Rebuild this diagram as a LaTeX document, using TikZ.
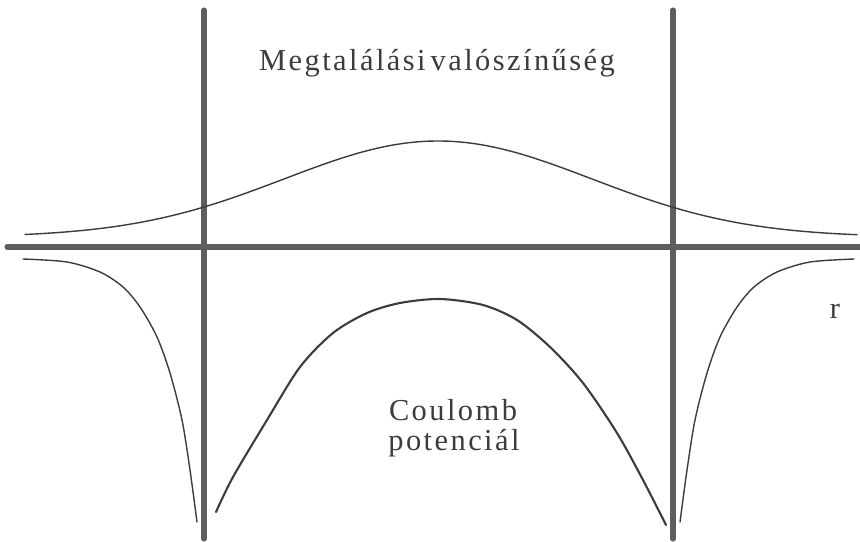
\documentclass[tikz,border=0pt]{standalone}
\usepackage{fontspec}
\setmainfont{Liberation Serif}
\newfontfamily\labelfont{Liberation Serif}[LetterSpace=8]
\definecolor{ink}{HTML}{3C3C3C}
\definecolor{axiscol}{HTML}{5E5E5E}

\begin{document}
\begin{tikzpicture}[
  x=0.3mm, y=-0.3mm, line cap=round, line join=round,
  axis/.style={axiscol, line width=4.3pt},
  curve/.style={ink, line width=1.2pt},
  lbl/.style={text=ink, font=\labelfont\fontsize{26}{28}\selectfont, inner sep=0pt, anchor=base}]

\useasboundingbox (0,0) rectangle (860,541);

\def\yax{247}   % the r axis
\def\xl{204}    % left nucleus
\def\xr{673}    % right nucleus

% ================================================================ axes
\draw[axis] (7,\yax) -- (860,\yax);
\draw[axis] (\xl,10) -- (\xl,539);
\draw[axis] (\xr,10) -- (\xr,539);

% ================================================================ probability
\draw[curve] plot[domain=25:857, samples=120, smooth]
  (\x,{\yax-10-96*exp(-((\x-438)/217)^2)});

% ================================================================ potential
\draw[curve] plot[smooth] coordinates {(23,259) (67,262) (100,272) (123,287)
  (140,307) (157,337) (170,373) (182,420) (190,470) (197,522)};
\draw[curve] plot[smooth] coordinates {(854,259) (810,262) (777,272) (754,287)
  (737,307) (720,337) (707,373) (695,420) (687,470) (680,522)};
% between the nuclei
\draw[curve, line width=1.8pt] plot[smooth] coordinates {(216,512) (233,477)
  (267,420) (300,367) (333,333) (367,313) (400,303) (440,299) (483,305)
  (517,320) (550,347) (583,383) (617,433) (643,480) (666,525)};

% ================================================================ labels
\node[lbl] (title) at (437,70) {Megtalálási\,valószínűség};
\node[lbl] (coulomb) at (453,420) {Coulomb};
\node[lbl] (potencial) at (454,450) {potenciál};
\node[lbl] (rlabel) at (835,318) {r};

\end{tikzpicture}
\end{document}
